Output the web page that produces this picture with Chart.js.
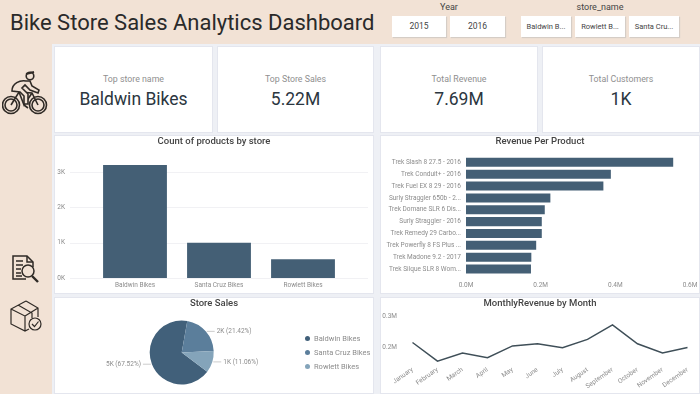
<!DOCTYPE html>
<html lang="en">
  <head>
    <meta charset="UTF-8" />
    <title>Bike Store Sales Analytics Dashboard</title>
    <script src="https://cdn.jsdelivr.net/npm/chart.js"></script>
    <style>
      html,
      body {
        margin: 0;
        padding: 0;
      }
      body {
        width: 700px;
        height: 394px;
        position: relative;
        overflow: hidden;
        background: #f2e2d5;
        font-family: Roboto, sans-serif;
      }
      #main {
        position: absolute;
        left: 52px;
        top: 44px;
        width: 648px;
        height: 350px;
        background: #eef0f5;
      }
      .panel {
        position: absolute;
        background: #fff;
        border: 1px solid #e4e6ee;
        box-sizing: border-box;
      }
      .kpi {
        text-align: center;
        top: 46px;
        height: 87px;
      }
      .kpi .name {
        margin-top: 26px;
        font-size: 8.8px;
        line-height: 12px;
        color: #8f8f8f;
      }
      .kpi .value {
        margin-top: 2px;
        font-size: 17.5px;
        line-height: 24px;
        color: #2b3640;
      }
      canvas {
        position: absolute;
      }
      #title {
        position: absolute;
        left: 10px;
        top: 6px;
        font-size: 22px;
        line-height: 34px;
        color: #2a2a2a;
        white-space: nowrap;
      }
      .slicer-title {
        position: absolute;
        top: 1px;
        font-size: 9px;
        line-height: 12px;
        color: #444;
        transform: translateX(-50%);
      }
      .btn {
        position: absolute;
        top: 16px;
        height: 21px;
        line-height: 21px;
        background: #fff;
        box-shadow: 1px 1px 1px #d5cdc6;
        text-align: center;
        color: #444;
      }
      .legend-item {
        position: absolute;
        left: 305px;
        height: 10px;
        font-size: 7.5px;
        line-height: 10px;
        color: #8c8c8c;
        white-space: nowrap;
      }
      .legend-item i {
        display: inline-block;
        width: 5px;
        height: 5px;
        margin-right: 4px;
        border-radius: 50%;
      }
      svg {
        position: absolute;
        fill: none;
        stroke: #2f2a26;
      }
    </style>
  </head>
  <body>
    <div id="title">Bike Store Sales Analytics Dashboard</div>
    <div class="slicer-title" style="left: 449px">Year</div>
    <div class="slicer-title" style="left: 600px">store_name</div>
    <div class="btn" style="left: 392px; width: 54px; font-size: 8.5px">2015</div>
    <div class="btn" style="left: 450px; width: 55px; font-size: 8.5px">2016</div>
    <div class="btn" style="left: 521px; width: 50px; font-size: 7.5px">Baldwin B...</div>
    <div class="btn" style="left: 575px; width: 50px; font-size: 7.5px">Rowlett B...</div>
    <div class="btn" style="left: 629px; width: 50px; font-size: 7.5px">Santa Cru...</div>

    <div id="main"></div>

    <div class="panel kpi" style="left: 54px; width: 159px">
      <div class="name">Top store name</div>
      <div class="value">Baldwin Bikes</div>
    </div>
    <div class="panel kpi" style="left: 217px; width: 157px">
      <div class="name">Top Store Sales</div>
      <div class="value">5.22M</div>
    </div>
    <div class="panel kpi" style="left: 380px; width: 158px">
      <div class="name">Total Revenue</div>
      <div class="value">7.69M</div>
    </div>
    <div class="panel kpi" style="left: 542px; width: 158px">
      <div class="name">Total Customers</div>
      <div class="value">1K</div>
    </div>

    <div class="panel" style="left: 54px; top: 135px; width: 320px; height: 159px"></div>
    <div class="panel" style="left: 380px; top: 135px; width: 320px; height: 159px"></div>
    <div class="panel" style="left: 54px; top: 297px; width: 320px; height: 97px"></div>
    <div class="panel" style="left: 380px; top: 297px; width: 320px; height: 97px"></div>

    <canvas id="barChart" style="left: 54px; top: 135px" width="320" height="159"></canvas>
    <canvas id="productChart" style="left: 380px; top: 135px" width="320" height="159"></canvas>
    <canvas id="pieChart" style="left: 54px; top: 297px" width="320" height="97"></canvas>
    <canvas id="lineChart" style="left: 380px; top: 297px" width="320" height="97"></canvas>
    <div id="pieLegend"></div>

    <!-- cyclist -->
    <svg style="left: 2px; top: 68px" width="48" height="50" viewBox="0 0 48 50" stroke-width="1.6">
      <circle cx="9" cy="37" r="8.5" />
      <circle cx="9" cy="37" r="6" />
      <circle cx="36" cy="37" r="8.5" />
      <circle cx="36" cy="37" r="6" />
      <path d="M9 37 L17 24 L30 25 L36 37 M17 24 L22 37 L30 25 M22 37 L26 40" />
      <path d="M24 13 C18 12 10 15 10 23 L18 24 L22 28 L22 36 L26 36 L26 26 L20 20 L23 17 L28 22 L36 25 L37 22 L30 18 L28 13 Z" fill="#f2e2d5" />
      <circle cx="28" cy="8" r="3.8" fill="#f2e2d5" />
      <path d="M24 6 L32 4" stroke-width="2.2" />
    </svg>
    <!-- report with magnifier -->
    <svg style="left: 11px; top: 254px" width="30" height="30" viewBox="0 0 30 30" stroke-width="1.5">
      <path d="M15 25 H2 V2 H16 L22 8 V13" />
      <path d="M16 2 V8 H22 M5 7 H12 M5 11 H12 M5 15 H10 M5 19 H10 M5 22 H11" />
      <circle cx="17" cy="17" r="6" />
      <path d="M21 22 L27 28" stroke-width="2.4" />
    </svg>
    <!-- box with check -->
    <svg style="left: 9px; top: 299px" width="35" height="35" viewBox="0 0 35 35" stroke-width="1.2">
      <path d="M17 2 L29 9 V18 M17 2 L2 10 V25 L16 32 L20 30 M2 10 L16 17 V32 M16 17 L29 9 M9 6 L23 14 V19" />
      <circle cx="26" cy="25" r="6" fill="#f2e2d5" />
      <path d="M23 25 L25.5 27.5 L29.5 22.5" />
    </svg>

    <script>
      // count of products by store
      const storeNames = ["Baldwin Bikes", "Santa Cruz Bikes", "Rowlett Bikes"];
      const productCounts = [3200, 1000, 530];
      const countTicks = [0, 1000, 2000, 3000];

      // revenue per product
      const productNames = [
        "Trek Slash 8 27.5 - 2016",
        "Trek Conduit+ - 2016",
        "Trek Fuel EX 8 29 - 2016",
        "Surly Straggler 650b - 2...",
        "Trek Domane SLR 6 Dis...",
        "Surly Straggler - 2016",
        "Trek Remedy 29 Carbo...",
        "Trek Powerfly 8 FS Plus ...",
        "Trek Madone 9.2 - 2017",
        "Trek Silque SLR 8 Wom...",
      ];
      const productRevenue = [0.555, 0.388, 0.368, 0.226, 0.211, 0.203, 0.203, 0.188, 0.175, 0.174];

      // store sales
      const salesShare = [67.52, 21.42, 11.06];
      const salesLabels = ["5K", "2K", "1K"];
      const pieColors = ["#41607a", "#5b7e9b", "#84a4ba"];

      // monthly revenue
      const months = [
        "January", "February", "March", "April", "May", "June",
        "July", "August", "September", "October", "November", "December",
      ];
      const monthlyRevenue = [0.216, 0.156, 0.182, 0.167, 0.205, 0.212, 0.199, 0.226, 0.273, 0.212, 0.182, 0.2];
      const monthlyTicks = [0.2, 0.3];

      const barColor = "#445f75";
      const labelColor = "#8c8c8c";
      const fontFamily = "Roboto, sans-serif";

      Chart.defaults.animation = false;
      Chart.defaults.responsive = false;
      Chart.defaults.font.family = fontFamily;
      Chart.defaults.font.size = 6.5;
      Chart.defaults.color = labelColor;
      Chart.defaults.plugins.legend.display = false;
      Chart.defaults.plugins.tooltip.enabled = false;

      function chartTitle(text, bottom) {
        return {
          display: true,
          text: text,
          color: "#444",
          font: { size: 9.5, weight: "500", family: fontFamily },
          padding: { top: 1, bottom: bottom },
        };
      }

      const noGrid = { display: false, drawTicks: false };

      // fixed axis box, so the plot area lands where it should
      function fixWidth(w) {
        return (s) => {
          s.width = w;
          s.paddingTop = 0;
          s.paddingBottom = 0;
        };
      }
      function fixHeight(h) {
        return (s) => {
          s.height = h;
          s.paddingLeft = 0;
          s.paddingRight = 0;
        };
      }
      // empty axis on the right: narrows the plot but leaves the title centred on the panel
      function rightGutter(w) {
        return {
          position: "right",
          grid: noGrid,
          border: { display: false },
          ticks: { display: false },
          afterFit: fixWidth(w),
        };
      }

      // the faint gridlines run wider than the plot area in the bar chart
      const wideGrid = {
        id: "wideGrid",
        beforeDatasetsDraw(chart) {
          const y = chart.scales.y;
          const ctx = chart.ctx;
          ctx.save();
          ctx.strokeStyle = "#f1f1f4";
          y.ticks.forEach((t, i) => {
            const py = Math.round(y.getPixelForTick(i)) + 0.5;
            ctx.beginPath();
            ctx.moveTo(16, py);
            ctx.lineTo(314, py);
            ctx.stroke();
          });
          ctx.restore();
        },
      };

      new Chart(document.getElementById("barChart"), {
        type: "bar",
        data: {
          labels: storeNames,
          datasets: [
            {
              data: productCounts,
              backgroundColor: barColor,
              barPercentage: 0.76,
              categoryPercentage: 1,
            },
          ],
        },
        plugins: [wideGrid],
        options: {
          plugins: { title: chartTitle("Count of products by store", 7) },
          scales: {
            x: {
              grid: noGrid,
              border: { display: false },
              ticks: { padding: 3, maxRotation: 0 },
              afterFit: fixHeight(16),
            },
            y: {
              min: 0,
              max: 3500,
              grid: noGrid,
              border: { display: false },
              afterBuildTicks: (s) => { s.ticks = countTicks.map((v) => ({ value: v })); },
              ticks: {
                padding: 28,
                autoSkip: false,
                callback: (v) => v / 1000 + "K",
              },
              afterFit: fixWidth(39),
            },
            y2: rightGutter(29),
          },
        },
      });

      new Chart(document.getElementById("productChart"), {
        type: "bar",
        data: {
          labels: productNames,
          datasets: [
            {
              data: productRevenue,
              backgroundColor: barColor,
              barPercentage: 0.76,
              categoryPercentage: 1,
            },
          ],
        },
        options: {
          indexAxis: "y",
          plugins: { title: chartTitle("Revenue Per Product", 9) },
          scales: {
            x: {
              min: 0,
              max: 0.6,
              grid: noGrid,
              border: { display: false },
              ticks: {
                stepSize: 0.2,
                padding: 6,
                maxRotation: 0,
                callback: (v) => v.toFixed(1) + "M",
              },
              afterFit: fixHeight(19),
            },
            y: {
              grid: noGrid,
              border: { display: false },
              ticks: { padding: 5, autoSkip: false },
              afterFit: fixWidth(86),
            },
            y2: rightGutter(10),
          },
        },
      });

      // labels with short leader lines beside the slices
      const pieLabels = {
        id: "pieLabels",
        afterDatasetsDraw(chart) {
          const ctx = chart.ctx;
          ctx.save();
          ctx.font = "6.5px " + fontFamily;
          ctx.textBaseline = "middle";
          chart.getDatasetMeta(0).data.forEach((arc, i) => {
            const mid = (arc.startAngle + arc.endAngle) / 2;
            const px = arc.x + Math.cos(mid) * arc.outerRadius;
            const py = arc.y + Math.sin(mid) * arc.outerRadius;
            const dir = Math.cos(mid) >= 0 ? 1 : -1;
            ctx.strokeStyle = "#ccc";
            ctx.beginPath();
            ctx.moveTo(px + dir, py);
            ctx.lineTo(px + dir * 9, py);
            ctx.stroke();
            ctx.fillStyle = labelColor;
            ctx.textAlign = dir > 0 ? "left" : "right";
            ctx.fillText(
              salesLabels[i] + " (" + salesShare[i].toFixed(2) + "%)",
              px + dir * 11,
              py
            );
          });
          ctx.restore();
        },
      };

      new Chart(document.getElementById("pieChart"), {
        type: "pie",
        data: {
          labels: storeNames,
          datasets: [
            {
              data: salesShare,
              backgroundColor: pieColors,
              borderWidth: 0,
              radius: 32,
              rotation: 127,
            },
          ],
        },
        plugins: [pieLabels],
        options: {
          layout: { padding: { bottom: 5.4 } },
          plugins: { title: chartTitle("Store Sales", 7) },
          scales: { y2: rightGutter(64.6) },
        },
      });

      const pieLegend = document.getElementById("pieLegend");
      storeNames.forEach((name, i) => {
        const item = document.createElement("div");
        item.className = "legend-item";
        item.style.top = 334 + i * 14 + "px";
        item.innerHTML = '<i style="background:' + pieColors[i] + '"></i>' + name;
        pieLegend.appendChild(item);
      });

      new Chart(document.getElementById("lineChart"), {
        type: "line",
        data: {
          labels: months,
          datasets: [
            {
              data: monthlyRevenue,
              borderColor: "#3f4f58",
              borderWidth: 1.5,
              pointRadius: 0,
              tension: 0,
            },
          ],
        },
        options: {
          plugins: { title: chartTitle("MonthlyRevenue by Month", 7) },
          scales: {
            x: {
              offset: true,
              grid: noGrid,
              border: { display: false },
              ticks: { minRotation: 35, maxRotation: 35, padding: 3, autoSkip: false },
              afterFit: fixHeight(31),
            },
            y: {
              min: 0.15,
              max: 0.3,
              grid: noGrid,
              border: { display: false },
              afterBuildTicks: (s) => { s.ticks = monthlyTicks.map((v) => ({ value: v })); },
              ticks: { padding: 3, callback: (v) => v.toFixed(1) + "M" },
              afterFit: fixWidth(20),
            },
          },
        },
      });
    </script>
  </body>
</html>
